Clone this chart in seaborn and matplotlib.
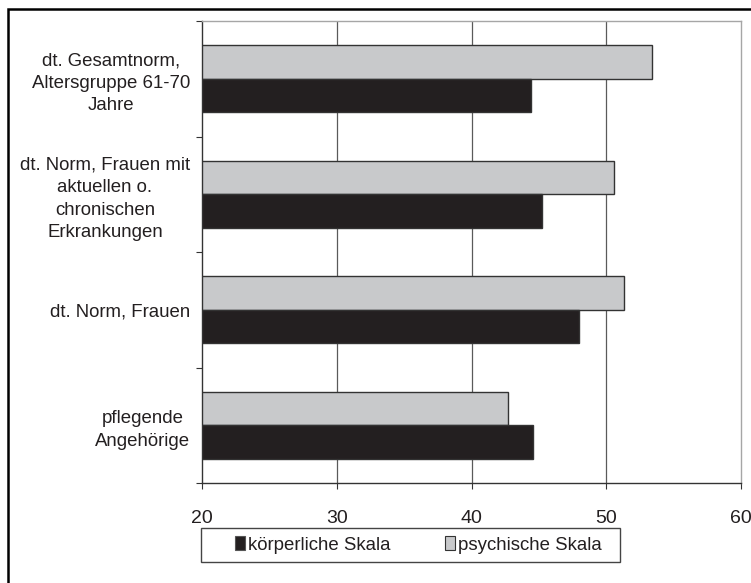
import matplotlib
matplotlib.use("Agg")
import matplotlib.pyplot as plt
from matplotlib.patches import Patch, Rectangle
from matplotlib.ticker import FixedLocator
import pandas as pd
import seaborn as sns

# --- data -----------------------------------------------------------------
groups = [
    "dt. Gesamtnorm,\nAltersgruppe 61-70\nJahre",
    "dt. Norm, Frauen mit\naktuellen o.\nchronischen\nErkrankungen",
    "dt. Norm, Frauen",
    "pflegende\nAngehörige",
]
koerperlich = [44.4, 45.2, 48.0, 44.6]
psychisch = [53.4, 50.6, 51.3, 42.7]
series = ["körperliche Skala", "psychische Skala"]
x_ticks = [20, 30, 40, 50, 60]

# --- style ----------------------------------------------------------------
sns.set_theme(style="white")
plt.rcParams["font.family"] = ["Liberation Sans", "DejaVu Sans"]
TEXT = "#231f20"
DARK = "#231f20"
LIGHT = "#c8c9cb"

df = pd.DataFrame({
    "Gruppe": groups * 2,
    "Wert": koerperlich + psychisch,
    "Skala": [series[0]] * len(groups) + [series[1]] * len(groups),
})

W, H = 751, 583
fig = plt.figure(figsize=(W / 100, H / 100), dpi=100)
fig.patch.set_facecolor("white")
ax = fig.add_axes([202 / W, 1 - 483 / H, 539 / W, 462 / H])

sns.barplot(
    data=df, y="Gruppe", x="Wert", hue="Skala",
    order=groups, hue_order=[series[1], series[0]],
    palette={series[0]: DARK, series[1]: LIGHT},
    orient="h", width=0.58, saturation=1, errorbar=None,
    edgecolor="#333333", linewidth=1.0, legend=False, ax=ax,
)

ax.set_xlim(20, 60)
ax.set_ylim(len(groups) - 0.5, -0.5)
ax.set_xticks(x_ticks)
ax.set_xlabel("")
ax.set_ylabel("")

# vertical grid behind the bars (inner lines only)
ax.set_axisbelow(True)
ax.xaxis.grid(True, color="#5a5a5a", linewidth=0.9)
gl = ax.get_xgridlines()
gl[0].set_visible(False)
gl[-1].set_visible(False)

for side in ("left", "bottom"):
    ax.spines[side].set_color("#333333")
    ax.spines[side].set_linewidth(1.0)
for side in ("top", "right"):
    ax.spines[side].set_color("#a6a6a6")
    ax.spines[side].set_linewidth(1.0)

# category ticks sit at the group boundaries
ax.yaxis.set_minor_locator(FixedLocator([i - 0.5 for i in range(len(groups) + 1)]))
ax.tick_params(axis="y", which="major", length=0, pad=8.6, labelsize=13.4, labelcolor=TEXT)
ax.tick_params(axis="y", which="minor", left=True, length=4.3, width=0.8, color="#333333", direction="out")
ax.tick_params(axis="x", which="major", bottom=True, length=4.5, width=0.8, color="#333333",
               direction="out", pad=15, labelsize=14, labelcolor=TEXT)
for lab in ax.get_yticklabels():
    lab.set_multialignment("center")
    lab.set_linespacing(1.42)

# legend below the plot in its own box
handles = [Patch(facecolor=DARK, edgecolor="#555555", linewidth=0.8),
           Patch(facecolor=LIGHT, edgecolor="#333333", linewidth=0.8)]
fig.legend(handles, series, loc="center left", bbox_to_anchor=(235 / W, 1 - 545 / H),
           ncol=2, frameon=False, borderpad=0, borderaxespad=0,
           handlelength=0.55, handleheight=0.7, handletextpad=0.17,
           columnspacing=2.9, fontsize=13.4, labelcolor=TEXT)
fig.add_artist(Rectangle((201 / W, 1 - 562 / H), 419 / W, 34 / H, transform=fig.transFigure,
                         fill=False, edgecolor="#444444", linewidth=1.0))

# outer frame (top and left edges visible)
fig.add_artist(Rectangle((8 / W, -0.1), 1.2, 1 - 9 / H + 0.1, transform=fig.transFigure,
                         fill=False, edgecolor="black", linewidth=1.8, clip_on=False))

fig.savefig("out.png", dpi=100, facecolor="white")
